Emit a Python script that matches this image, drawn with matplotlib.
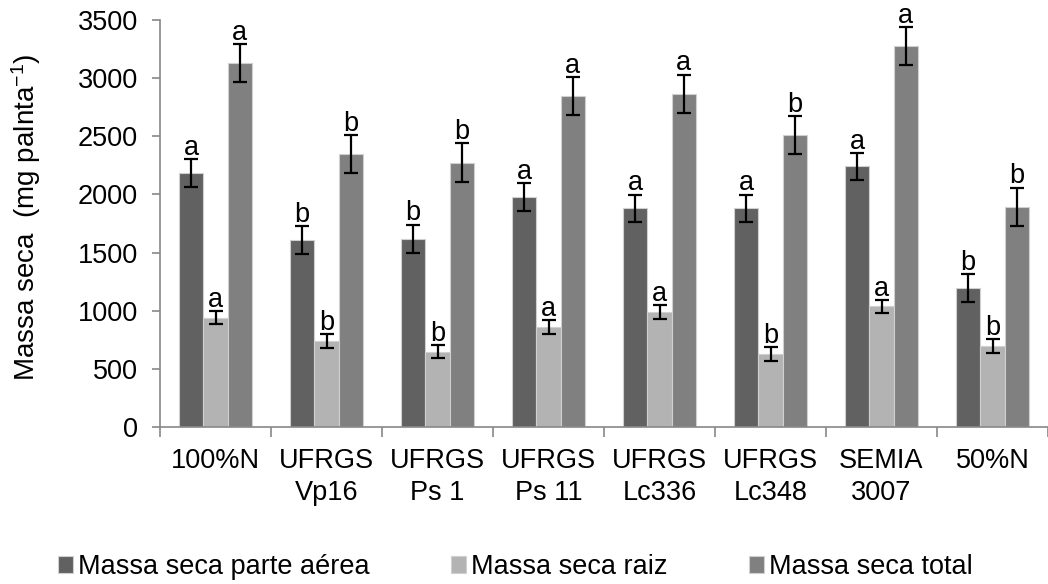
import matplotlib
matplotlib.use("Agg")
import matplotlib.pyplot as plt
import numpy as np

plt.rcParams['font.family'] = ['Liberation Sans', 'DejaVu Sans']
plt.rcParams['mathtext.default'] = 'regular'

categories = ["100%N", "UFRGS\nVp16", "UFRGS\nPs 1", "UFRGS\nPs 11",
              "UFRGS\nLc336", "UFRGS\nLc348", "SEMIA\n3007", "50%N"]

aerea = [2187, 1608, 1618, 1980, 1879, 1879, 2241, 1196]
aerea_err = [120, 120, 122, 120, 120, 120, 118, 120]
aerea_letters = ["a", "b", "b", "a", "a", "a", "a", "b"]

raiz = [940, 740, 649, 862, 985, 629, 1037, 698]
raiz_err = [58, 57, 58, 60, 60, 58, 58, 58]
raiz_letters = ["a", "b", "b", "a", "a", "b", "a", "b"]

total = [3128, 2345, 2273, 2847, 2865, 2511, 3278, 1894]
total_err = [165, 165, 170, 165, 165, 165, 163, 165]
total_letters = ["a", "b", "b", "a", "a", "b", "a", "b"]

series = [
    ("Massa seca parte aérea", aerea, aerea_err, aerea_letters, "#616161"),
    ("Massa seca raiz", raiz, raiz_err, raiz_letters, "#b3b3b3"),
    ("Massa seca total", total, total_err, total_letters, "#808080"),
]

fs = 19.5
fig = plt.figure(figsize=(10.48, 5.84), dpi=100)
ax = fig.add_axes([160 / 1048, 1 - 427 / 584, 888 / 1048, 407 / 584])

x = np.arange(len(categories))
w = 0.22
handles = []
for i, (name, vals, errs, letters, color) in enumerate(series):
    pos = x + (i - 1) * w
    b = ax.bar(pos, vals, width=w, color=color, edgecolor="#d0d0d0",
               linewidth=0.8, label=name, zorder=2)
    handles.append(b)
    ax.errorbar(pos, vals, yerr=errs, fmt="none", ecolor="black",
                elinewidth=1.6, capsize=5, capthick=1.6, zorder=3)
    for p, v, e, t in zip(pos, vals, errs, letters):
        ax.annotate(t, (p, v + e), xytext=(0, 3), textcoords="offset points",
                    ha="center", va="baseline", fontsize=fs)

ax.set_xlim(-0.5, len(categories) - 0.5)
ax.set_ylim(0, 3500)
ax.set_yticks(np.arange(0, 3501, 500))
ax.tick_params(axis="y", labelsize=fs, length=6, width=1.2, color="#888888",
               pad=10)

# category boundaries carry the tick marks; labels sit at the centres
ax.set_xticks(np.arange(-0.5, len(categories), 1.0))
ax.set_xticklabels([])
ax.tick_params(axis="x", which="major", length=7, width=1.2, color="#888888")
ax.set_xticks(x, minor=True)
ax.set_xticklabels(categories, minor=True, fontsize=fs, linespacing=1.3)
ax.tick_params(axis="x", which="minor", length=0, pad=15)

for s in ["top", "right"]:
    ax.spines[s].set_visible(False)
for s in ["left", "bottom"]:
    ax.spines[s].set_color("#888888")
    ax.spines[s].set_linewidth(1.2)

ax.set_ylabel("Massa seca  (mg palnta$^{-1}$)", fontsize=20)
ax.yaxis.set_label_coords(-0.132, 0.514)

fig.legend(handles=handles, loc="center left",
           bbox_to_anchor=(58 / 1048, 1 - 567 / 584), ncol=3, frameon=False,
           fontsize=fs, handlelength=0.56, handleheight=0.56,
           handletextpad=0.18, columnspacing=3.0, borderaxespad=0,
           borderpad=0)

fig.savefig("out.png", dpi=100)
